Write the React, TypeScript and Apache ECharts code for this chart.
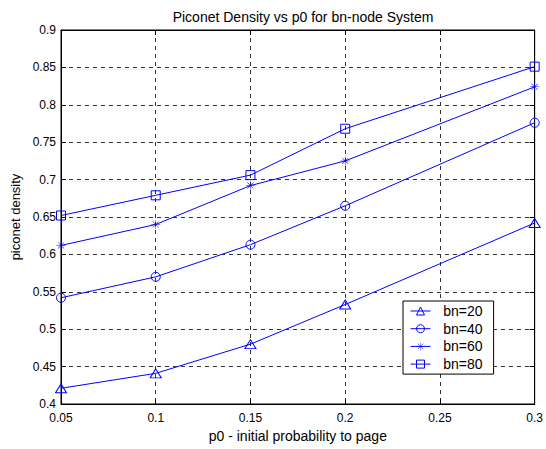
import React, { useEffect, useRef } from "react";
import * as echarts from "echarts";

const xValues = [0.05, 0.1, 0.15, 0.2, 0.3];
const bn20 = [0.421, 0.441, 0.48, 0.533, 0.642];
const bn40 = [0.542, 0.57, 0.613, 0.665, 0.776];
const bn60 = [0.612, 0.64, 0.692, 0.725, 0.824];
const bn80 = [0.652, 0.679, 0.706, 0.768, 0.851];
const seriesNames = ["bn=20", "bn=40", "bn=60", "bn=80"];

const asterisk =
  "path://M9.5,0h1v20h-1z M0,9.5h20v1h-20z M2.8,3.5L3.5,2.8L17.2,16.5L16.5,17.2z M16.5,2.8L17.2,3.5L3.5,17.2L2.8,16.5z";

export default function App() {
  const ref = useRef<HTMLDivElement>(null);
  useEffect(() => {
    if (!ref.current) return;
    const chart = echarts.init(ref.current, null, { renderer: "svg" });
    const font = "Liberation Sans, Arial, sans-serif";
    const blue = "#0000ff";
    const mk = (name: string, vals: number[], symbol: string, size: number | number[], filled: boolean) => ({
      name,
      type: "line",
      xAxisIndex: 0,
      yAxisIndex: 0,
      data: xValues.map((x, i) => [x, vals[i]]),
      symbol,
      symbolSize: size,
      showAllSymbol: true,
      lineStyle: { color: blue, width: 1 },
      itemStyle: filled
        ? { color: blue, borderWidth: 0 }
        : { color: "rgba(0,0,0,0)", borderColor: blue, borderWidth: 1 },
      emphasis: { disabled: true },
      z: 3,
    });
    const tickOnly = {
      axisLabel: { show: false },
      splitLine: { show: false },
      axisLine: { show: true, lineStyle: { color: "#000" } },
      axisTick: { show: true, inside: true, length: 5, lineStyle: { color: "#000" } },
    };
    chart.setOption({
      animation: false,
      backgroundColor: "#ffffff",
      title: {
        text: "Piconet Density vs p0 for bn-node System",
        left: 298,
        textAlign: "center",
        top: 5,
        textStyle: { fontFamily: font, fontSize: 14, fontWeight: "normal", color: "#000" },
      },
      grid: {
        left: 61,
        right: 8,
        top: 30,
        bottom: 45,
        show: true,
        borderColor: "#000",
        borderWidth: 1,
        backgroundColor: "#fff",
      },
      legend: {
        data: seriesNames,
        orient: "vertical",
        left: 403,
        top: 301,
        padding: [3, 11, 3, 7],
        itemWidth: 20,
        itemHeight: 10,
        itemGap: 3.7,
        backgroundColor: "#fff",
        borderColor: "#000",
        borderWidth: 1,
        borderRadius: 0,
        itemStyle: { borderWidth: 1 },
        lineStyle: { width: 1 },
        formatter: (n: string) => "  " + n,
        textStyle: { fontFamily: font, fontSize: 14, color: "#000" },
      },
      xAxis: [
        {
          type: "value",
          min: 0.05,
          max: 0.3,
          interval: 0.05,
          name: "p0 - initial probability to page",
          nameLocation: "middle",
          nameGap: 25,
          nameTextStyle: { fontFamily: font, fontSize: 14, color: "#000" },
          axisLine: { show: true, lineStyle: { color: "#000" } },
          axisTick: { show: true, inside: true, length: 5, lineStyle: { color: "#000" } },
          axisLabel: { fontFamily: font, fontSize: 12, color: "#000", margin: 8 },
          splitLine: { show: true, lineStyle: { color: "#333", type: [4, 4], width: 1 } },
        },
        { type: "value", position: "top", min: 0.05, max: 0.3, interval: 0.05, ...tickOnly },
      ],
      yAxis: [
        {
          type: "value",
          min: 0.4,
          max: 0.9,
          interval: 0.05,
          name: "piconet density",
          nameLocation: "middle",
          nameGap: 37,
          nameTextStyle: { fontFamily: font, fontSize: 13, color: "#000" },
          axisLine: { show: true, lineStyle: { color: "#000" } },
          axisTick: { show: true, inside: true, length: 5, lineStyle: { color: "#000" } },
          axisLabel: { fontFamily: font, fontSize: 12, color: "#000", margin: 5 },
          splitLine: { show: true, lineStyle: { color: "#333", type: [4, 4], width: 1 } },
        },
        { type: "value", position: "right", min: 0.4, max: 0.9, interval: 0.05, ...tickOnly },
      ],
      series: [
        mk(seriesNames[0], bn20, "triangle", [11, 9], false),
        mk(seriesNames[1], bn40, "circle", 9, false),
        mk(seriesNames[2], bn60, asterisk, 9, true),
        mk(seriesNames[3], bn80, "rect", 9, false),
      ],
    });
    return () => chart.dispose();
  }, []);
  return (
    <div
      ref={ref}
      style={{ position: "absolute", left: 0, top: 0, width: 546, height: 449 }}
    />
  );
}
